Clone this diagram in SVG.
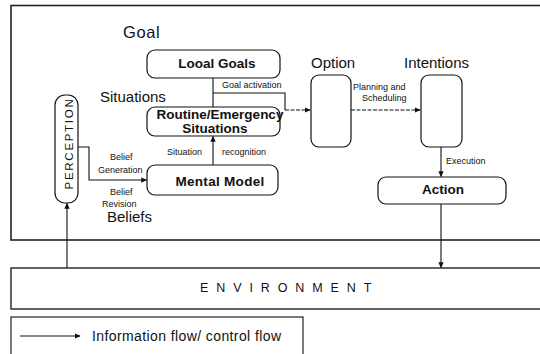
<svg xmlns="http://www.w3.org/2000/svg" width="540" height="354" viewBox="0 0 540 354">
<style>
.ln{fill:none;stroke:#111;stroke-width:1.1}
.box{fill:#fff;stroke:#111;stroke-width:1.2}
.dash{stroke-dasharray:4 1.5}
.t{font-family:"Liberation Sans",Arial,sans-serif;fill:#111}
.big{font-size:15px}
.bl{font-size:13.5px;font-weight:bold}
.sm{font-size:9px}
</style>
<defs>
<marker id="ah" viewBox="0 0 8 8" refX="7" refY="4" markerWidth="6" markerHeight="6" orient="auto" markerUnits="userSpaceOnUse">
<path d="M0,0.5 L8,4 L0,7.5 Z" fill="#111"/>
</marker>
</defs>
<rect width="540" height="354" fill="#fff"/>
<g id="frame">
<rect x="11" y="5.5" width="540" height="234.5" fill="none" stroke="#222" stroke-width="1.6"/>
</g>
<g id="labels">
<text class="t" x="123" y="38" font-size="16.5" letter-spacing="0.6">Goal</text>
<text class="t big" x="100" y="102">Situations</text>
<text class="t big" x="107" y="222">Beliefs</text>
<text class="t big" x="311" y="68">Option</text>
<text class="t big" x="404" y="68">Intentions</text>
</g>
<g id="connectors">
<polyline class="ln" points="213,78 213,107"/>
<polyline class="ln" points="213,93 285,93 285,110"/>
<line class="ln dash" x1="285" y1="110" x2="310" y2="110" marker-end="url(#ah)"/>
<line class="ln dash" x1="351" y1="110" x2="420" y2="110" marker-end="url(#ah)"/>
<line class="ln" x1="441" y1="147" x2="441" y2="176.5" marker-end="url(#ah)"/>
<line class="ln" x1="441" y1="204" x2="441" y2="267.5" marker-end="url(#ah)"/>
<line class="ln" x1="213" y1="165" x2="213" y2="136.5" marker-end="url(#ah)"/>
<polyline class="ln" points="78,147 89,147 89,180 146.5,180" marker-end="url(#ah)"/>
<line class="ln" x1="67" y1="268" x2="67" y2="203.5" marker-end="url(#ah)"/>
<text class="t sm" x="222" y="88">Goal activation</text>
<text class="t sm" x="353" y="90">Planning and</text>
<text class="t sm" x="362" y="101">Scheduling</text>
<text class="t sm" x="446" y="164">Execution</text>
<text class="t sm" x="167" y="155">Situation</text>
<text class="t sm" x="222" y="155">recognition</text>
<text class="t sm" x="110" y="160">Belief</text>
<text class="t sm" x="98" y="173">Generation</text>
<text class="t sm" x="110" y="195">Belief</text>
<text class="t sm" x="102" y="207">Revision</text>
</g>
<g id="local-goals">
<rect class="box" x="147" y="50" width="133" height="28" rx="8"/>
<text class="t bl" x="217" y="68" text-anchor="middle">Looal Goals</text>
</g>
<g id="routine">
<rect class="box" x="147" y="107" width="133" height="29" rx="8"/>
<text class="t bl" x="220" y="118.5" text-anchor="middle">Routine/Emergency</text>
<text class="t bl" x="215" y="133" text-anchor="middle">Situations</text>
</g>
<g id="mental-model">
<rect class="box" x="147" y="165" width="131" height="30" rx="8"/>
<text class="t bl" x="220" y="185.5" text-anchor="middle" font-size="14" letter-spacing="0.3">Mental Model</text>
</g>
<g id="perception">
<rect class="box" x="55" y="95" width="23" height="108" rx="10"/>
<text class="t" font-size="11.5" letter-spacing="1.7" transform="translate(72.5,143.5) rotate(-90)" text-anchor="middle">PERCEPTION</text>
</g>
<g id="option">
<rect class="box" x="311" y="75" width="40" height="72" rx="8"/>
</g>
<g id="intentions">
<rect class="box" x="421" y="75" width="41" height="72" rx="8"/>
</g>
<g id="action">
<rect class="box" x="378" y="177" width="128" height="27" rx="8"/>
<text class="t bl" x="443" y="193.5" text-anchor="middle">Action</text>
</g>
<g id="environment">
<rect x="11" y="268" width="540" height="41" fill="#fff" stroke="#222" stroke-width="1.4"/>
<text class="t" x="200" y="292" font-size="12.5" letter-spacing="7.9">ENVIRONMENT</text>
</g>
<g id="legend">
<rect x="11" y="317" width="292" height="45" fill="#fff" stroke="#222" stroke-width="1.2"/>
<line class="ln" x1="20" y1="336" x2="80" y2="336" marker-end="url(#ah)"/>
<text class="t" x="92" y="340.5" font-size="14" letter-spacing="0.4">Information flow/ control flow</text>
</g>
</svg>
